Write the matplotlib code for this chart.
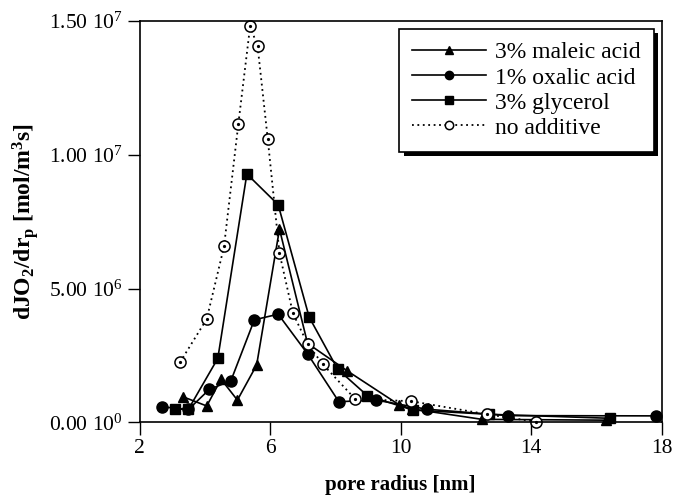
import matplotlib
matplotlib.use("Agg")
import matplotlib.pyplot as plt
import matplotlib.patheffects as pe

plt.rcParams['font.family'] = ['Liberation Serif', 'DejaVu Serif']
plt.rcParams['mathtext.fontset'] = 'custom'
plt.rcParams['mathtext.rm'] = 'Liberation Serif'
plt.rcParams['mathtext.it'] = 'Liberation Serif:italic'
plt.rcParams['mathtext.bf'] = 'Liberation Serif:bold'

# Data (pore radius [nm], dJO2/drp [1e6 mol/m^3 s])
maleic_x = [3.32, 4.06, 4.50, 5.00, 5.59, 6.29, 7.15, 8.37, 9.96, 10.35, 12.50, 16.30]
maleic_y = [0.96, 0.61, 1.61, 0.83, 2.14, 7.22, 2.95, 1.92, 0.65, 0.50, 0.11, 0.08]

oxalic_x = [2.68, 3.50, 4.14, 4.80, 5.52, 6.25, 7.15, 8.11, 9.25, 10.80, 13.30, 17.83]
oxalic_y = [0.58, 0.48, 1.23, 1.55, 3.83, 4.04, 2.56, 0.77, 0.83, 0.49, 0.25, 0.24]

glycerol_x = [3.09, 3.50, 4.40, 5.29, 6.25, 7.20, 8.07, 8.98, 10.37, 12.70, 16.42]
glycerol_y = [0.49, 0.49, 2.39, 9.28, 8.13, 3.93, 1.99, 1.00, 0.46, 0.30, 0.15]

none_x = [3.24, 4.06, 4.59, 5.03, 5.39, 5.62, 5.93, 6.29, 6.70, 7.15, 7.61, 8.61, 10.32, 12.65, 14.15]
none_y = [2.24, 3.86, 6.57, 11.16, 14.80, 14.05, 10.59, 6.32, 4.08, 2.93, 2.18, 0.87, 0.79, 0.30, 0.02]

labels = ["3% maleic acid", "1% oxalic acid", "3% glycerol", "no additive"]
x_ticks = [2, 6, 10, 14, 18]
y_ticks = [0, 5, 10, 15]
y_ticklabels = [r"0.00 10$^{0}$", r"5.00 10$^{6}$", r"1.00 10$^{7}$", r"1.50 10$^{7}$"]

fig = plt.figure(figsize=(6.74, 4.98), dpi=100)
ax = fig.add_axes([0.207, 0.152, 0.7745, 0.806])

lw = 1.2
ax.plot(maleic_x, maleic_y, color='black', lw=lw, marker='^', ms=7, mfc='black',
        label=labels[0], clip_on=False)
ax.plot(oxalic_x, oxalic_y, color='black', lw=lw, marker='o', ms=8, mfc='black',
        label=labels[1], clip_on=False)
ax.plot(glycerol_x, glycerol_y, color='black', lw=lw, marker='s', ms=7, mfc='black',
        label=labels[2], clip_on=False)
ax.plot(none_x, none_y, color='black', lw=1.3, ls=(0, (1, 2)), marker='o', ms=8,
        mfc='white', mew=1.1, label=labels[3], clip_on=False)
ax.plot(none_x, none_y, ls='none', marker='o', ms=1.3, color='black', clip_on=False)

ax.set_xlim(2, 18)
ax.set_ylim(0, 15)
ax.set_xticks(x_ticks)
ax.set_xticklabels([str(v) for v in x_ticks])
ax.set_yticks(y_ticks)
ax.set_yticklabels(y_ticklabels)
ax.tick_params(direction='out', length=9, width=1.0, labelsize=15.5, pad=3)
for s in ax.spines.values():
    s.set_linewidth(1.2)

ax.set_xlabel("pore radius [nm]", fontsize=15, fontweight='bold', labelpad=12)
ax.set_ylabel(r"dJO$_\mathbf{2}$/dr$_\mathbf{p}$ [mol/m$^\mathbf{3}$s]", fontsize=17,
              fontweight='bold', labelpad=6)

leg = ax.legend(loc='upper right', bbox_to_anchor=(0.985, 0.98), borderaxespad=0,
                fontsize=17, handlelength=3.1, fancybox=False, framealpha=1,
                edgecolor='black', shadow=False,
                labelspacing=0.15, borderpad=0.55, handletextpad=0.4, markerscale=0.75)
frame = leg.get_frame()
frame.set_linewidth(1.2)
frame.set_path_effects([pe.SimplePatchShadow(offset=(3, -3), shadow_rgbFace='black', alpha=1),
                        pe.Normal()])
fig.savefig("out.png", dpi=100)
